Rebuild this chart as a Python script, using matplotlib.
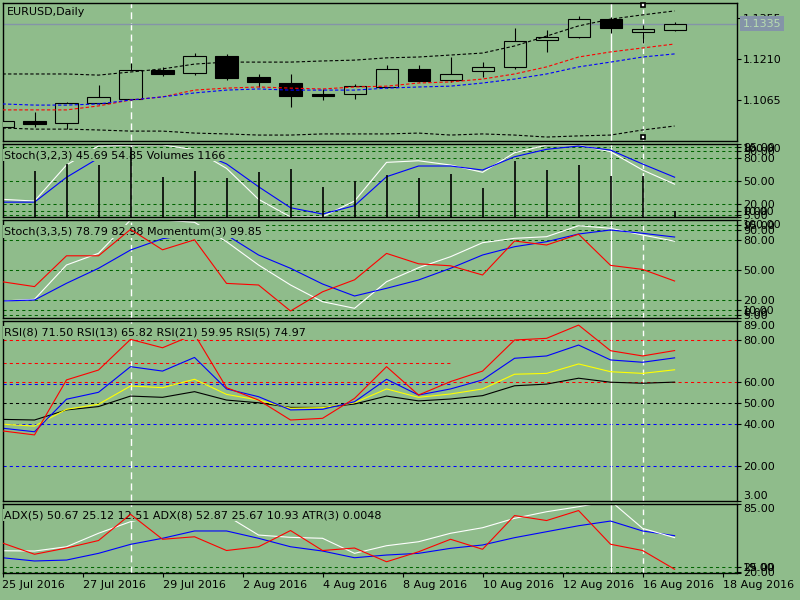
import numpy as np
import matplotlib.pyplot as plt

plt.rcParams['font.family'] = ['DejaVu Sans']
plt.rcParams['font.size'] = 8

bg = '#8fbc8b'
grn = '#006400'

# time axis
dates = ['25 Jul 2016', '27 Jul 2016', '29 Jul 2016', '2 Aug 2016', '4 Aug 2016',
         '8 Aug 2016', '10 Aug 2016', '12 Aug 2016', '16 Aug 2016', '18 Aug 2016']
date_pos = [0, 2.5, 5, 7.5, 10, 12.5, 15, 17.5, 20, 22.5]

# EURUSD daily candles
opens = [1.0970, 1.0991, 1.0984, 1.1054, 1.1069, 1.1171, 1.1160, 1.1221, 1.1146, 1.1125, 1.1086,
         1.1086, 1.1111, 1.1175, 1.1136, 1.1168, 1.1182, 1.1277, 1.1288, 1.1351, 1.1305, 1.1313]
highs = [1.0993, 1.1023, 1.1058, 1.1118, 1.1196, 1.1182, 1.1231, 1.1228, 1.1157, 1.1157, 1.1104,
         1.1122, 1.1189, 1.1189, 1.1217, 1.1199, 1.1320, 1.1313, 1.1362, 1.1359, 1.1330, 1.1341]
lows = [1.0968, 1.0970, 1.0962, 1.1051, 1.1065, 1.1150, 1.1153, 1.1136, 1.1111, 1.1040, 1.1065,
        1.1069, 1.1107, 1.1129, 1.1129, 1.1146, 1.1175, 1.1235, 1.1284, 1.1302, 1.1267, 1.1309]
closes = [1.0991, 1.0980, 1.1054, 1.1076, 1.1171, 1.1157, 1.1221, 1.1143, 1.1129, 1.1079, 1.1079,
          1.1115, 1.1175, 1.1132, 1.1157, 1.1182, 1.1274, 1.1288, 1.1351, 1.1320, 1.1316, 1.1334]
ma_red = [1.1030, 1.1030, 1.1030, 1.1044, 1.1065, 1.1076, 1.1100, 1.1107, 1.1111, 1.1107, 1.1104,
          1.1111, 1.1114, 1.1125, 1.1129, 1.1139, 1.1157, 1.1182, 1.1217, 1.1235, 1.1249, 1.1263]
ma_blue = [1.1051, 1.1047, 1.1047, 1.1051, 1.1065, 1.1076, 1.1090, 1.1100, 1.1104, 1.1100, 1.1100,
           1.1100, 1.1107, 1.1111, 1.1114, 1.1125, 1.1139, 1.1157, 1.1182, 1.1199, 1.1217, 1.1228]
env_up = [1.1157, 1.1157, 1.1157, 1.1153, 1.1164, 1.1175, 1.1192, 1.1199, 1.1199, 1.1199, 1.1203,
          1.1206, 1.1214, 1.1217, 1.1224, 1.1231, 1.1256, 1.1291, 1.1327, 1.1351, 1.1366, 1.1380]
env_dn = [1.0966, 1.0962, 1.0962, 1.0959, 1.0955, 1.0955, 1.0948, 1.0945, 1.0941, 1.0941, 1.0945,
          1.0945, 1.0945, 1.0948, 1.0941, 1.0945, 1.0941, 1.0934, 1.0938, 1.0941, 1.0959, 1.0973]
last_price = 1.1335

# window 1: Stoch(3,2,3) + Volumes
volumes = [9000, 8930, 10290, 10090, 13600, 7760, 8930, 7570, 8730, 9310, 5820,
           6990, 8150, 7570, 8340, 5630, 10860, 9120, 10090, 7960, 7960, 1166]
st1_main = [25.7, 23.4, 70.9, 96, 97, 97.5, 91, 66.5, 25.7, 2.4, 2.8,
            23.4, 74.4, 76.5, 70.9, 61.3, 87.1, 97.2, 97.2, 88.4, 64.3, 45.69]
st1_sig = [22, 22, 54.7, 80, 86, 90, 90, 72.4, 42.3, 14.6, 6.3,
           17.3, 55.5, 69.6, 69.6, 64.3, 81.8, 91.6, 95.9, 90.6, 72.2, 54.85]

# window 2: Stoch(3,3,5) + Momentum(3)
st2_main = [19, 20.7, 55, 66.7, 100, 100, 97.7, 78.3, 55, 35, 18.3,
            11.7, 38.3, 52.3, 63.3, 77.3, 81.7, 83.3, 94.3, 91.7, 85, 78.79]
st2_sig = [19, 20, 36.7, 51.7, 70, 81.3, 86, 85, 65, 51.7, 36,
           24, 31.7, 40, 51.7, 65, 73.3, 78.3, 86, 90, 86.7, 82.98]
momentum = [99.83, 99.71, 100.48, 100.48, 101.14, 100.63, 100.88, 99.79, 99.75, 99.10, 99.58,
            99.88, 100.54, 100.28, 100.23, 100.00, 100.85, 100.75, 101.02, 100.24, 100.14, 99.85]

# window 3: RSI
rsi5 = [36.7, 34.8, 61, 65.7, 80.3, 76.3, 82.7, 57.3, 51.4, 41.9, 42.7,
        52.2, 67.3, 53.8, 60.2, 65.2, 80, 80.8, 87.1, 74.9, 72.4, 74.97]
rsi8 = [38, 36.3, 51.8, 55.1, 67.3, 65.2, 71.7, 56.7, 53, 46.7, 47,
        50.6, 61.3, 53.8, 56.7, 61, 71.3, 72.4, 77.6, 70.5, 69.4, 71.50]
rsi13 = [39.9, 39, 47, 49.4, 58.1, 57.3, 61.3, 54.1, 51.4, 47.5, 47.8,
         50.1, 56.7, 52.7, 54.3, 56.7, 63.7, 64.1, 68.6, 64.9, 64.1, 65.82]
rsi21 = [42.2, 41.9, 46.7, 48.3, 53.3, 52.7, 55.4, 51.4, 50.1, 47.9, 47.9,
         49.5, 53.3, 51, 51.9, 53.5, 58.2, 59, 61.8, 59.9, 59.4, 59.95]

# window 4: ADX + ATR
adx_w = [40.3, 40.0, 44.1, 57.0, 68.1, 74.5, 78.3, 73.9, 55.3, 53.1, 52.2,
         37.8, 45.1, 48.9, 57.0, 62.3, 71.3, 77.6, 82.4, 87.9, 61.7, 52.87]
adx_b = [33.6, 30.5, 31.4, 37.8, 46.4, 52.2, 59.2, 59.2, 52.2, 44.1, 40.0,
         33.6, 36.2, 37.8, 42.6, 45.8, 52.8, 58.5, 64.2, 68.7, 59.2, 54.7]
atr3 = [0.0069, 0.0060, 0.0065, 0.0071, 0.0092, 0.0072, 0.0074, 0.0063, 0.0066, 0.0079, 0.0063,
        0.0065, 0.0054, 0.0062, 0.0072, 0.0064, 0.0091, 0.0087, 0.0095, 0.0068, 0.0063, 0.0048]

# vertical lines on bars
events = [4, 19, 20]
event_ls = [(0, (5, 3)), '-', (0, (4, 3))]

W, H = 800, 600
fig = plt.figure(figsize=(8, 6), dpi=100, facecolor=bg)
x = np.arange(len(opens))


def pane(y0, y1, share=None):
    ax = fig.add_axes([2.5 / W, 1 - y1 / H, 734.5 / W, (y1 - y0) / H], sharex=share)
    ax.set_facecolor(bg)
    for s in ax.spines.values():
        s.set_color('black')
        s.set_linewidth(1)
    ax.tick_params(axis='x', bottom=False, labelbottom=False)
    return ax


def twin(ax, lo, hi):
    t = ax.twinx()
    t.set_ylim(lo, hi)
    t.set_axis_off()
    return t


def yticks(ax, ticks, labels, top=None, bottom=None):
    ax.yaxis.tick_right()
    ax.tick_params(axis='y', direction='out', length=3, width=0.8, pad=1.5,
                   labelsize=8, colors='black')
    ax.set_yticks(ticks, labels)
    for t in ax.get_yticklabels():
        if t.get_text() == top:
            t.set_va('top')
        if t.get_text() == bottom:
            t.set_va('bottom')


def levels(ax, vals, color=grn):
    for v in vals:
        ax.axhline(v, color=color, lw=0.75, ls=(0, (3, 3)), zorder=1)


def label(ax, s, dy, dx=2):
    ax.annotate(s, xy=(0, 1), xycoords='axes fraction', xytext=(dx, -dy),
                textcoords='offset pixels', va='center', ha='left', zorder=5,
                bbox=dict(boxstyle='square,pad=0.1', fc=bg, ec='none'))


ax0 = pane(3, 141)
ax1 = pane(144, 217, ax0)
ax2 = pane(220, 318, ax0)
ax3 = pane(321, 501, ax0)
ax4 = pane(504, 573, ax0)
ax0.set_xlim(0, 22.95)

for ax in (ax0, ax1, ax2, ax3, ax4):
    for b, ls in zip(events, event_ls):
        ax.axvline(b, color='white', lw=1, ls=ls, zorder=1.5)

# main chart
ax0.set_ylim(1.0920, 1.1408)
o = np.array(opens)
c = np.array(closes)
ax0.axhline(last_price, color='#8494a8', lw=1, zorder=2)
ax0.vlines(x, lows, highs, color='black', lw=0.8, zorder=3)
ax0.bar(x, np.abs(c - o), bottom=np.minimum(o, c), width=0.69,
        color=np.where(c >= o, bg, 'black'), edgecolor='black', linewidth=0.8, zorder=4)
dots = (0, (3, 2))
ax0.plot(x, env_up, color='black', lw=0.8, ls=dots, zorder=5)
ax0.plot(x, env_dn, color='black', lw=0.8, ls=dots, zorder=5)
ax0.plot(x, ma_red, color='red', lw=0.8, ls=dots, zorder=5)
ax0.plot(x, ma_blue, color='blue', lw=0.8, ls=dots, zorder=5)
ax0.plot([events[2], events[2]], [0.986, 0.029], transform=ax0.get_xaxis_transform(),
         ls='none', marker='s', ms=3.5, mfc='white', mec='black', mew=1.2,
         clip_on=False, zorder=6)
label(ax0, 'EURUSD,Daily', 9, 4)
yticks(ax0, [1.1355, 1.1210, 1.1065], ['1.1355', '1.1210', '1.1065'])
ax0.annotate(f'{last_price:.4f}', xy=(1, last_price), xycoords=ax0.get_yaxis_transform(),
             xytext=(6, 0), textcoords='offset pixels', va='center', ha='left',
             color='#b8dcb0', annotation_clip=False, zorder=6,
             bbox=dict(boxstyle='square,pad=0.25', fc='#8494a8', ec='none'))

# stoch + volumes
ax1.set_ylim(2.4, 98.6)
levels(ax1, [95, 90, 80, 50, 20, 10, 5])
ax1.plot(x, st1_main, color='white', lw=0.8, zorder=2)
ax1.plot(x, st1_sig, color='blue', lw=0.8, zorder=2)
label(ax1, 'Stoch(3,2,3) 45.69 54.85 Volumes 1166', 11)
tv = twin(ax1, 0, 14160)
tv.vlines(x, 0, volumes, color='black', lw=1.2)
yticks(ax1, [98.6, 95, 90, 80, 50, 20, 10, 5, 2.4],
       ['100.00', '95.00', '90.00', '80.00', '50.00', '20.00', '10.00', '5.00', '0.00'],
       top='100.00', bottom='0.00')

# stoch + momentum
ax2.set_ylim(2, 100)
levels(ax2, [95, 90, 80, 50, 20, 10, 5])
ax2.plot(x, st2_main, color='white', lw=0.8, zorder=2)
ax2.plot(x, st2_sig, color='blue', lw=0.8, zorder=2)
label(ax2, 'Stoch(3,3,5) 78.79 82.98 Momentum(3) 99.85', 11.5)
tm = twin(ax2, 98.925, 101.375)
tm.plot(x, momentum, color='red', lw=0.8)
yticks(ax2, [100, 95, 90, 80, 50, 20, 10, 5, 2],
       ['100.00', '95.00', '90.00', '80.00', '50.00', '20.00', '10.00', '5.00', '0.00'],
       top='100.00', bottom='0.00')

# RSI
ax3.set_ylim(3.33, 89.05)
dash = (0, (3, 3))
for v in (80, 60):
    ax3.axhline(v, color='red', lw=0.75, ls=dash, zorder=1)
ax3.hlines(69.2, 0, 14.05, color='red', lw=0.75, ls=dash, zorder=1)
ax3.hlines(58.9, 0, 14.05, color='blue', lw=0.75, ls=dash, zorder=1)
ax3.axhline(50, color='black', lw=0.75, ls=dash, zorder=1)
for v in (40, 20):
    ax3.axhline(v, color='blue', lw=0.75, ls=dash, zorder=1)
ax3.plot(x, rsi21, color='black', lw=0.8, zorder=2)
ax3.plot(x, rsi13, color='yellow', lw=0.8, zorder=2)
ax3.plot(x, rsi8, color='blue', lw=0.8, zorder=2)
ax3.plot(x, rsi5, color='red', lw=0.8, zorder=4)
label(ax3, 'RSI(8) 71.50 RSI(13) 65.82 RSI(21) 59.95 RSI(5) 74.97', 11.5)
yticks(ax3, [89.05, 80, 60, 50, 40, 20, 3.33],
       ['89.00', '80.00', '60.00', '50.00', '40.00', '20.00', '3.00'],
       top='89.00', bottom='3.00')

# ADX + ATR
ax4.set_ylim(19, 85)
levels(ax4, [25, 20])
ax4.plot(x, adx_b, color='blue', lw=0.8, zorder=2)
ax4.plot(x, adx_w, color='white', lw=0.8, zorder=2)
label(ax4, 'ADX(5) 50.67 25.12 12.51 ADX(8) 52.87 25.67 10.93 ATR(3) 0.0048', 11)
ta = twin(ax4, 0.0045, 0.010024)
ta.plot(x, atr3, color='red', lw=0.8)
yticks(ax4, [85, 25, 20, 19], ['85.00', '25.00', '20.00', '19.00'],
       top='85.00', bottom='19.00')

ax4.set_xticks(date_pos, dates)
ax4.tick_params(axis='x', bottom=True, labelbottom=True, direction='out',
                length=3, width=0.8, pad=2, labelsize=8, colors='black')
for t in ax4.get_xticklabels():
    t.set_ha('left')

fig.savefig('out.png', dpi=100, facecolor=bg)
